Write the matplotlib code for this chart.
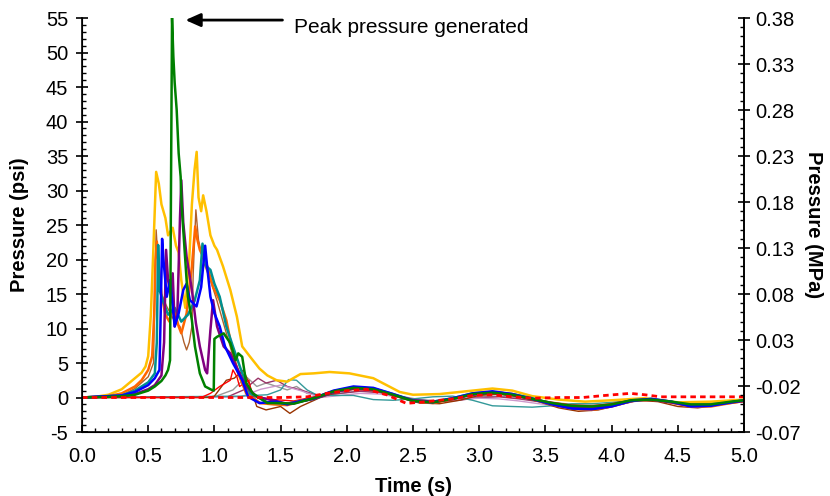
import numpy as np
import matplotlib.pyplot as plt
from matplotlib.ticker import MultipleLocator, FixedLocator

plt.rcParams['font.family'] = ['Liberation Sans', 'DejaVu Sans']
plt.rcParams['axes.unicode_minus'] = False

# ---- data (time in s, pressure in psi) ----
gold_t = [0, 0.1, 0.2, 0.3, 0.4, 0.45, 0.48, 0.5, 0.52, 0.54, 0.56, 0.58, 0.6, 0.63, 0.65, 0.685,
          0.71, 0.73, 0.75, 0.78, 0.81, 0.83, 0.85, 0.866, 0.88, 0.9, 0.915, 0.94, 0.97, 1.0, 1.02,
          1.065, 1.12, 1.17, 1.21, 1.27, 1.34, 1.4, 1.47, 1.55, 1.65, 1.75, 1.87, 2.02, 2.2, 2.3,
          2.4, 2.5, 2.7, 2.9, 3.1, 3.25, 3.4, 3.6, 3.8, 4.0, 4.25, 4.5, 4.75, 5.0]
gold_p = [0, 0.1, 0.4, 1.2, 2.8, 3.6, 4.5, 6, 12, 22, 32.7, 31, 28, 26, 23.5, 24.6,
          22, 21, 17, 13, 20, 28, 33, 35.6, 29, 27, 29.3, 27, 23.5, 22, 21.4,
          19, 15.6, 11.7, 7.4, 5.9, 4.2, 3.2, 2.5, 2.3, 3.4, 3.5, 3.7, 3.5, 2.8, 1.8,
          0.8, 0.4, 0.5, 0.9, 1.3, 1.0, 0.2, -0.3, -0.6, -0.4, -0.1, -0.7, -0.6, -0.3]

orange_t = [0, 0.2, 0.3, 0.4, 0.45, 0.5, 0.53, 0.545, 0.555, 0.565, 0.58, 0.6, 0.63, 0.66, 0.69,
            0.73, 0.75, 0.79, 0.83, 0.855, 0.87, 0.89, 0.94, 0.99, 1.04, 1.09, 1.14, 1.18, 1.24,
            1.34, 1.45, 1.55, 1.75, 1.9, 2.05, 2.2, 2.35, 2.5, 2.65, 2.8, 2.95, 3.1, 3.25, 3.4,
            3.55, 3.7, 3.85, 4.0, 4.15, 4.3, 4.45, 4.6, 4.75, 4.9, 5.0]
orange_p = [0, 0.2, 0.6, 1.6, 2.5, 4, 6, 12, 20, 22.6, 19, 15, 12, 11, 13.2,
            10.3, 9.3, 12.2, 19, 24.8, 23, 21.4, 19.4, 16, 14.1, 11.2, 6.4, 3.5, 0.6,
            -0.8, -1.0, -1.1, -0.1, 0.9, 1.5, 1.3, 0.4, -0.5, -0.8, -0.2, 0.5, 0.8, 0.5, -0.2,
            -1.0, -1.6, -1.8, -1.3, -0.5, -0.3, -0.7, -1.3, -1.3, -0.8, -0.5]

sienna_t = [0, 0.3, 0.4, 0.5, 0.54, 0.55, 0.56, 0.58, 0.6, 0.64, 0.7, 0.74, 0.77, 0.79, 0.81,
            0.83, 0.84, 0.86, 0.88, 0.92, 0.97, 1.02, 1.08, 1.14, 1.2, 1.26, 1.35, 1.5, 1.75,
            1.9, 2.05, 2.2, 2.35, 2.5, 2.65, 2.8, 2.95, 3.1, 3.25, 3.4, 3.55, 3.7, 3.85, 4.0,
            4.15, 4.3, 4.45, 4.6, 4.75, 4.9, 5.0]
sienna_p = [0, 0.3, 1.3, 3, 5, 15, 24.3, 18, 15, 13.2, 11, 10.3, 8, 6.9, 8,
            10.3, 18, 27.2, 22.8, 19.5, 17, 14, 10, 6, 3, 0.5, -0.8, -1.0, 0.0,
            1.0, 1.4, 1.2, 0.3, -0.6, -0.8, -0.2, 0.5, 0.7, 0.4, -0.3,
            -1.1, -1.7, -1.8, -1.2, -0.5, -0.3, -0.8, -1.4, -1.2, -0.8, -0.5]

teal_t = [0, 0.3, 0.4, 0.5, 0.55, 0.565, 0.575, 0.585, 0.61, 0.65, 0.7, 0.75, 0.8, 0.85, 0.89,
          0.91, 0.94, 0.97, 1.0, 1.04, 1.09, 1.14, 1.21, 1.27, 1.4, 1.55, 1.75, 1.9, 2.05, 2.2,
          2.35, 2.5, 2.65, 2.8, 2.95, 3.1, 3.25, 3.4, 3.55, 3.7, 3.85, 4.0, 4.15, 4.3, 4.45,
          4.6, 4.75, 4.9, 5.0]
teal_p = [0, 0.3, 1.0, 2.2, 3.5, 8, 22.1, 15.6, 14.1, 12, 13, 11, 12, 14, 17,
          22.3, 19, 18.5, 16.5, 14.6, 10.3, 7.4, 3.5, 0.6, -0.7, -0.9, -0.2, 0.8, 1.4, 1.3,
          0.5, -0.4, -0.6, -0.1, 0.6, 0.8, 0.5, -0.1, -0.9, -1.5, -1.6, -1.2, -0.4, -0.2, -0.6,
          -1.2, -1.1, -0.7, -0.4]

blue_t = [0, 0.3, 0.4, 0.5, 0.55, 0.585, 0.595, 0.605, 0.615, 0.64, 0.665, 0.69, 0.70, 0.73,
          0.765, 0.79, 0.815, 0.865, 0.90, 0.93, 0.945, 0.97, 1.0, 1.04, 1.08, 1.14, 1.21, 1.255,
          1.34, 1.47, 1.55, 1.75, 1.9, 2.05, 2.2, 2.35, 2.5, 2.65, 2.8, 2.95, 3.1, 3.25, 3.4,
          3.55, 3.7, 3.85, 4.0, 4.15, 4.3, 4.45, 4.6, 4.75, 4.9, 5.0]
blue_p = [0, 0.3, 0.8, 1.8, 2.8, 4, 12.7, 23, 20, 14.6, 17, 12.2, 10.3, 12.2,
          15.6, 16.5, 14.1, 13.2, 16, 22, 19, 14.6, 12.2, 10.3, 7.4, 5, 2.5, 0.1,
          -0.8, -0.6, -1.0, -0.1, 1.0, 1.6, 1.4, 0.5, -0.5, -0.7, -0.1, 0.6, 0.9, 0.5, -0.2,
          -1.0, -1.6, -1.7, -1.3, -0.5, -0.2, -0.6, -1.3, -1.2, -0.7, -0.4]

purple_t = [0, 0.3, 0.4, 0.5, 0.55, 0.6, 0.62, 0.635, 0.65, 0.67, 0.685, 0.70, 0.72, 0.74, 0.75,
            0.765, 0.79, 0.83, 0.86, 0.89, 0.93, 0.945, 0.97, 0.99, 1.02, 1.07, 1.12, 1.19, 1.24,
            1.32, 1.44, 1.55, 1.75, 1.9, 2.05, 2.2, 2.35, 2.5, 2.65, 2.8, 2.95, 3.1, 3.25, 3.4,
            3.55, 3.7, 3.85, 4.0, 4.15, 4.3, 4.45, 4.6, 4.75, 4.9, 5.0]
purple_p = [0, 0.2, 0.5, 1.2, 1.8, 3.2, 8, 21.4, 17, 14.6, 18, 10.3, 12, 26, 31.5,
            25.3, 20.4, 15.6, 10.8, 7.4, 4, 3.5, 9.8, 14.1, 10.3, 7.4, 6.4, 3.5, 1.6,
            0.1, -0.4, -0.9, -0.2, 0.8, 1.3, 1.2, 0.4, -0.4, -0.6, -0.2, 0.4, 0.7, 0.4, -0.2,
            -0.9, -1.4, -1.5, -1.1, -0.4, -0.3, -0.7, -1.2, -1.1, -0.7, -0.5]

green_t = [0, 0.2, 0.3, 0.4, 0.5, 0.55, 0.6, 0.63, 0.65, 0.665, 0.672, 0.68, 0.69, 0.70, 0.715,
           0.73, 0.745, 0.753, 0.77, 0.79, 0.80, 0.83, 0.853, 0.89, 0.93, 0.98, 0.995, 1.0, 1.02,
           1.07, 1.12, 1.16, 1.18, 1.21, 1.24, 1.29, 1.4, 1.5, 1.6, 1.75, 1.9, 2.05, 2.2, 2.35,
           2.5, 2.65, 2.8, 2.95, 3.1, 3.25, 3.4, 3.55, 3.7, 3.85, 4.0, 4.15, 4.3, 4.45, 4.6,
           4.75, 4.9, 5.0]
green_p = [0, 0.1, 0.2, 0.4, 1, 1.6, 2.4, 3.2, 4, 5.4, 30, 55, 49.4, 45.6, 41.7,
           35.4, 32, 27.7, 22.8, 17, 14.6, 11.2, 7.4, 3.5, 1.6, 1.1, 1.0, 8.5, 8.8,
           9.3, 7.9, 5.4, 6.4, 5.9, 2.1, 0.6, -0.8, -0.8, -0.9, -0.1, 0.9, 1.4, 1.2, 0.4,
           -0.5, -0.7, -0.2, 0.5, 0.7, 0.4, -0.2, -0.8, -1.2, -1.3, -1.0, -0.4, -0.3, -0.6, -1.0,
           -1.0, -0.6, -0.4]

redthin_t = [0, 0.9, 0.97, 1.04, 1.12, 1.14, 1.17, 1.19, 1.26, 1.28, 1.32, 1.45, 1.6, 1.75,
             1.9, 2.05, 2.2, 2.35, 2.5, 2.65, 2.8, 2.95, 3.1, 3.25, 3.4, 3.55, 3.7, 3.85, 4.0,
             4.15, 4.3, 4.45, 4.6, 4.75, 4.9, 5.0]
redthin_p = [0, 0, 0.6, 1.6, 2.5, 4, 3, 1.6, 2.5, 0.6, 0.1, -0.3, -0.5, 0.1,
             0.8, 1.2, 1.0, 0.3, -0.4, -0.6, -0.2, 0.4, 0.6, 0.3, -0.2, -0.7, -1.1, -1.2, -0.9,
             -0.3, -0.3, -0.6, -1.0, -1.0, -0.6, -0.4]

grey_t = [0, 1.0, 1.14, 1.24, 1.27, 1.32, 1.39, 1.47, 1.55, 1.62, 1.70, 1.8, 1.95, 2.1, 2.25,
          2.4, 2.55, 2.7, 2.85, 3.0, 3.15, 3.3, 3.45, 3.6, 3.75, 3.9, 4.05, 4.2, 4.35, 4.5,
          4.65, 4.8, 5.0]
grey_p = [0, 0.1, 1.1, 3, 2.5, 1.6, 2.1, 1.6, 1.1, 1.6, 0.6, 0.3, 0.6, 1.0, 0.8,
          0.2, -0.3, -0.5, -0.3, 0.1, 0.2, 0.0, -0.4, -0.8, -1.1, -1.1, -0.8, -0.3, -0.4, -0.8,
          -1.0, -0.8, -0.5]

mauve_t = [0, 1.1, 1.22, 1.33, 1.39, 1.47, 1.55, 1.65, 1.8, 1.95, 2.1, 2.25, 2.4, 2.55, 2.7,
           2.85, 3.0, 3.15, 3.3, 3.45, 3.6, 3.75, 3.9, 4.05, 4.2, 4.35, 4.5, 4.65, 4.8, 5.0]
mauve_p = [0, 0.1, 1.1, 2.8, 2.1, 2.5, 1.6, 1.1, 0.2, 0.6, 0.9, 0.7, 0.1, -0.4, -0.6,
           -0.4, 0.0, 0.1, -0.2, -0.6, -1.0, -1.3, -1.3, -1.0, -0.4, -0.4, -0.8, -1.1, -0.9, -0.6]

violet_t = [0, 1.2, 1.35, 1.5, 1.65, 1.8, 1.95, 2.1, 2.25, 2.4, 2.55, 2.7, 2.85, 3.0, 3.15,
            3.3, 3.45, 3.6, 3.75, 3.9, 4.05, 4.2, 4.35, 4.5, 4.65, 4.8, 5.0]
violet_p = [0, 0.1, 1.2, 1.8, 1.0, 0.0, 0.3, 0.6, 0.5, 0.0, -0.4, -0.5, -0.3, -0.1, -0.2,
            -0.5, -0.9, -1.2, -1.4, -1.3, -1.0, -0.5, -0.5, -0.8, -1.0, -0.8, -0.5]

tealthin_t = [0, 1.2, 1.3, 1.4, 1.5, 1.56, 1.62, 1.70, 1.77, 1.9, 2.05, 2.2, 2.35, 2.5, 2.65,
              2.8, 2.95, 3.1, 3.25, 3.4, 3.55, 3.7, 3.85, 4.0, 4.15, 4.3, 4.45, 4.6, 4.75,
              4.9, 5.0]
tealthin_p = [0, 0.2, 0.3, 0.4, 1.1, 2.6, 2.5, 1.1, 0.4, 0.3, 0.3, -0.3, -0.4, -0.2, 0.1,
              0.2, -0.4, -1.2, -1.3, -1.4, -1.2, -0.9, -0.9, -0.7, -0.4, -0.4, -0.7, -0.9,
              -0.8, -0.6, -0.4]

brownthin_t = [0, 0.95, 1.0, 1.09, 1.15, 1.22, 1.27, 1.32, 1.39, 1.5, 1.57, 1.65, 1.8, 1.95,
               2.1, 2.25, 2.4, 2.55, 2.7, 2.85, 3.0, 3.15, 3.3, 3.45, 3.6, 3.75, 3.9, 4.05,
               4.2, 4.35, 4.5, 4.65, 4.8, 5.0]
brownthin_p = [0, 0, 0.2, 2.5, 2.8, 4, 1.6, -1.3, -1.8, -1.3, -2.3, -1.3, 0.0, 0.9,
               1.3, 0.9, 0.0, -0.8, -0.9, -0.4, 0.3, 0.5, 0.1, -0.6, -1.5, -2.0, -1.8, -1.1,
               -0.4, -0.6, -1.3, -1.5, -1.1, -0.6]

reddash_t = [0, 0.5, 1.0, 1.5, 1.7, 1.85, 2.0, 2.15, 2.3, 2.45, 2.6, 2.8, 2.95, 3.1, 3.25,
             3.41, 3.6, 3.78, 3.95, 4.14, 4.25, 4.37, 4.6, 4.8, 5.0]
reddash_p = [0, 0, 0, 0, 0.1, 0.6, 1.0, 1.2, 0.4, -0.85, -0.6, -0.2, 0.3, 0.4, 0.1,
             -0.1, 0, 0, 0.3, 0.6, 0.4, 0.1, 0.1, 0.1, 0.1]

mpa_ticks = [-0.07, -0.02, 0.03, 0.08, 0.13, 0.18, 0.23, 0.28, 0.33, 0.38]

fig = plt.figure(figsize=(8.3, 4.96), dpi=100)
ax = fig.add_axes([0.0988, 0.129, 0.7976, 0.8347])

# thin lines first
thin = [(grey_t, grey_p, '#999999'), (mauve_t, mauve_p, '#993366'),
        (violet_t, violet_p, '#CC99CC'), (tealthin_t, tealthin_p, '#339999'),
        (brownthin_t, brownthin_p, '#993300'), (redthin_t, redthin_p, '#FF0000'),
        (sienna_t, sienna_p, '#B0602A')]
for t, p, c in thin:
    ax.plot(t, p, color=c, lw=1.0)

thick = [(gold_t, gold_p, '#FFC000'), (orange_t, orange_p, '#FF6600'),
         (teal_t, teal_p, '#009090'), (purple_t, purple_p, '#800080'),
         (blue_t, blue_p, '#0000FF'), (green_t, green_p, '#008000')]
for t, p, c in thick:
    ax.plot(t, p, color=c, lw=1.8)

ax.plot(reddash_t, reddash_p, color='#FF0000', lw=2.0, ls=(0, (2, 1.5)))

fs = 14.5
ax.set_xlim(0, 5)
ax.set_ylim(-5, 55)
ax.xaxis.set_major_locator(MultipleLocator(0.5))
ax.xaxis.set_minor_locator(MultipleLocator(0.1))
ax.yaxis.set_major_locator(MultipleLocator(5))
ax.yaxis.set_minor_locator(MultipleLocator(1))
ax.xaxis.set_major_formatter(plt.FormatStrFormatter('%.1f'))
ax.spines['top'].set_visible(False)
for s in ['left', 'bottom', 'right']:
    ax.spines[s].set_linewidth(1.2)
ax.tick_params(axis='x', which='major', direction='in', length=5, width=1.2, labelsize=fs, pad=11)
ax.tick_params(axis='x', which='minor', direction='in', length=3, width=1.0)
ax.tick_params(axis='y', which='major', direction='inout', length=8, width=1.2, labelsize=fs, pad=6)
ax.tick_params(axis='y', which='minor', direction='in', length=3, width=1.0)
ax.set_xlabel('Time (s)', fontsize=fs, fontweight='bold', labelpad=8)
ax.set_ylabel('Pressure (psi)', fontsize=fs, fontweight='bold', labelpad=12)

ax2 = ax.twinx()
ax2.set_ylim(-0.07, 0.38)
ax2.yaxis.set_major_locator(FixedLocator(mpa_ticks))
ax2.yaxis.set_minor_locator(MultipleLocator(0.01))
ax2.yaxis.set_major_formatter(plt.FormatStrFormatter('%.2f'))
ax2.spines['top'].set_visible(False)
ax2.spines['right'].set_linewidth(1.2)
ax2.tick_params(axis='y', which='major', direction='inout', length=8, width=1.2, labelsize=fs, pad=4)
ax2.tick_params(axis='y', which='minor', direction='in', length=3, width=1.0)
ax2.set_ylabel('Pressure (MPa)', fontsize=fs, fontweight='bold', rotation=-90, labelpad=16)

ax.annotate('', xy=(0.76, 54.7), xytext=(1.535, 54.7),
            arrowprops=dict(arrowstyle='-|>,head_length=0.9,head_width=0.4', color='black', lw=2))
ax.text(1.6, 53.6, 'Peak pressure generated', fontsize=15, ha='left', va='center')

fig.savefig('out.png', dpi=100)
